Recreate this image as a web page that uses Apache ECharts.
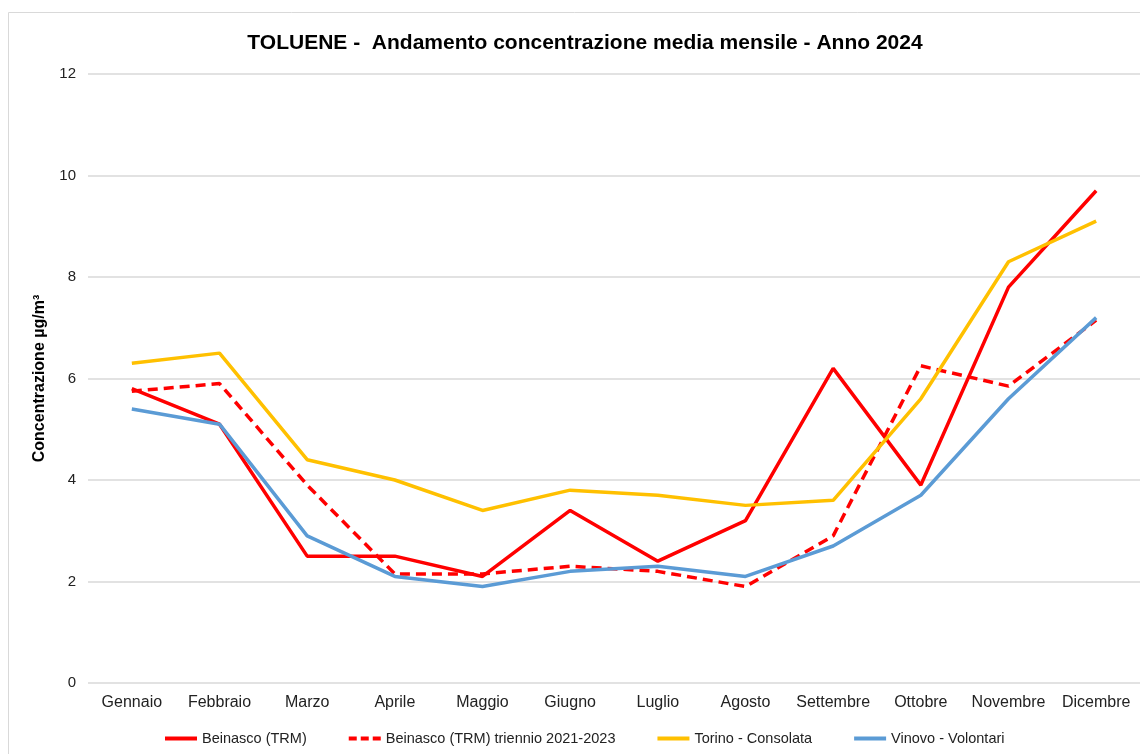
<!DOCTYPE html>
<html>
<head>
<meta charset="utf-8">
<script src="https://cdn.jsdelivr.net/npm/echarts@6/dist/echarts.min.js"></script>
<style>
html, body { margin: 0; padding: 0; background: #fff; }
#chart { width: 1140px; height: 754px; }
</style>
</head>
<body>
<div id="chart"></div>
<script>
const months = ['Gennaio', 'Febbraio', 'Marzo', 'Aprile', 'Maggio', 'Giugno', 'Luglio', 'Agosto', 'Settembre', 'Ottobre', 'Novembre', 'Dicembre'];
const beinasco = [5.8, 5.1, 2.5, 2.5, 2.1, 3.4, 2.4, 3.2, 6.2, 3.9, 7.8, 9.7];
const beinascoTriennio = [5.75, 5.9, 3.9, 2.15, 2.15, 2.3, 2.2, 1.9, 2.9, 6.25, 5.85, 7.15];
const torino = [6.3, 6.5, 4.4, 4.0, 3.4, 3.8, 3.7, 3.5, 3.6, 5.6, 8.3, 9.1];
const vinovo = [5.4, 5.1, 2.9, 2.1, 1.9, 2.2, 2.3, 2.1, 2.7, 3.7, 5.6, 7.2];

const chart = echarts.init(document.getElementById('chart'));

// legend icons: plain bar, or three dashes for the 2021-2023 series
const solidIcon = 'path://M0,0 H32 V4 H0 Z';
const dashIcon = 'path://M0,0 H8 V4 H0 Z M12,0 H20 V4 H12 Z M24,0 H32 V4 H24 Z';

function lineSeries(name, data, color, dashed) {
    return {
        name: name,
        type: 'line',
        data: data,
        symbol: 'none',
        itemStyle: { color: color },
        lineStyle: { color: color, width: 3.5, type: dashed ? [10, 6] : 'solid' },
        emphasis: { disabled: true }
    };
}

chart.setOption({
    animation: false,
    title: {
        text: 'TOLUENE -  Andamento concentrazione media mensile - Anno 2024',
        left: 580,
        textAlign: 'center',
        top: 28,
        textStyle: { fontFamily: 'Liberation Sans, Arial', fontWeight: 'bold', fontSize: 21, color: '#000' }
    },
    graphic: [{
        type: 'rect',
        shape: { x: 8.5, y: 12.5, width: 1140, height: 760 },
        style: { fill: 'none', stroke: '#d9d9d9', lineWidth: 1 },
        silent: true
    }],
    legend: {
        bottom: 3,
        left: 160,
        itemWidth: 32,
        itemHeight: 4,
        itemGap: 42,
        textStyle: { fontFamily: 'Liberation Sans, Arial', fontSize: 14.5, color: '#222' },
        data: [
            { name: 'Beinasco (TRM)', icon: solidIcon },
            { name: 'Beinasco (TRM) triennio 2021-2023', icon: dashIcon },
            { name: 'Torino - Consolata', icon: solidIcon },
            { name: 'Vinovo - Volontari', icon: solidIcon }
        ]
    },
    grid: { left: 88, right: 0, top: 74, bottom: 71, containLabel: false },
    xAxis: {
        type: 'category',
        data: months,
        boundaryGap: true,
        axisLine: { show: false },
        axisTick: { show: false },
        axisLabel: { fontFamily: 'Liberation Sans, Arial', fontSize: 16, color: '#222', margin: 12, interval: 0 }
    },
    yAxis: {
        type: 'value',
        min: 0,
        max: 12,
        interval: 2,
        name: 'Concentrazione µg/m³',
        nameLocation: 'middle',
        nameGap: 40,
        nameTextStyle: { fontFamily: 'Liberation Sans, Arial', fontWeight: 'bold', fontSize: 16, color: '#000' },
        axisLine: { show: false },
        axisTick: { show: false },
        axisLabel: { fontFamily: 'Liberation Sans, Arial', fontSize: 15, color: '#222', margin: 12 },
        splitLine: { lineStyle: { color: '#d9d9d9', width: 1.5 } }
    },
    series: [
        lineSeries('Beinasco (TRM)', beinasco, '#ff0000', false),
        lineSeries('Beinasco (TRM) triennio 2021-2023', beinascoTriennio, '#ff0000', true),
        lineSeries('Torino - Consolata', torino, '#ffc000', false),
        lineSeries('Vinovo - Volontari', vinovo, '#5b9bd5', false)
    ]
});
</script>
</body>
</html>
